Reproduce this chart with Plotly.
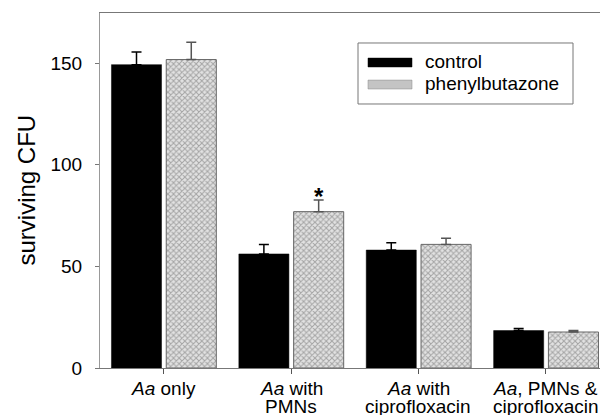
import plotly.graph_objects as go

label_line1 = ["<i>Aa</i> only", "<i>Aa</i> with", "<i>Aa</i> with", "<i>Aa</i>, PMNs &"]
label_line2 = ["", "PMNs", "ciprofloxacin", "ciprofloxacin"]
control = [149.2, 56.1, 58.0, 18.4]
control_err = [6.2, 4.7, 3.6, 1.0]
phenyl = [151.7, 76.9, 60.8, 17.7]
phenyl_err = [8.5, 5.7, 3.0, 0.7]
series_names = ["control", "phenylbutazone"]
y_ticks = [0, 50, 100, 150]
y_title = "surviving CFU"

xpos = list(range(len(label_line1)))
FONT = "Liberation Sans, Arial, sans-serif"

fig = go.Figure()
fig.add_trace(go.Bar(
    x=xpos, y=control, name=series_names[0], width=0.393, offset=-0.41,
    marker=dict(color="black", line=dict(color="black", width=0.5)),
    error_y=dict(type="data", array=control_err, arrayminus=[0]*4, symmetric=False,
                 color="black", thickness=1.5, width=5),
    showlegend=False,
))
fig.add_trace(go.Bar(
    x=xpos, y=phenyl, name=series_names[1], width=0.393, offset=0.02,
    marker=dict(color="#dcdcdc", line=dict(color="#666", width=1),
                pattern=dict(shape="x", size=4, solidity=0.45, fgcolor="#666", bgcolor="#e2e2e2")),
    error_y=dict(type="data", array=phenyl_err, arrayminus=[0]*4, symmetric=False,
                 color="#555", thickness=1.5, width=5),
    showlegend=False,
))

# significance star
fig.add_annotation(x=xpos[1] + 0.2165, y=phenyl[1] + phenyl_err[1], text="<b>*</b>",
                   showarrow=False, yanchor="bottom", yshift=-12,
                   font=dict(family=FONT, size=24, color="black"))

# category labels (two tight lines)
for xp, l1, l2 in zip(xpos, label_line1, label_line2):
    fig.add_annotation(x=xp, xref="x", y=0, yref="paper", text=l1, showarrow=False,
                       xanchor="center", yanchor="middle", yshift=-20.4,
                       font=dict(family=FONT, size=19, color="black"))
    if l2:
        fig.add_annotation(x=xp, xref="x", y=0, yref="paper", text=l2, showarrow=False,
                           xanchor="center", yanchor="middle", yshift=-38.6,
                           font=dict(family=FONT, size=19, color="black"))

# y-axis title
fig.add_annotation(xref="paper", yref="paper", x=-0.148, y=0.5, text=y_title, textangle=-90,
                   showarrow=False, xanchor="center", yanchor="middle",
                   font=dict(family=FONT, size=24, color="black"))

# legend drawn manually
shapes = [
    dict(type="rect", xref="paper", yref="paper", x0=0.516, x1=0.946, y0=0.7437, y1=0.9155,
         line=dict(color="#777", width=1), fillcolor="white"),
    dict(type="rect", xref="paper", yref="paper", x0=0.536, x1=0.624, y0=0.848, y1=0.873,
         line=dict(color="black", width=0.5), fillcolor="black"),
    dict(type="rect", xref="paper", yref="paper", x0=0.536, x1=0.624, y0=0.786, y1=0.811,
         line=dict(color="#888", width=0.5), fillcolor="#c4c4c4"),
]
fig.add_annotation(xref="paper", yref="paper", x=0.646, y=0.862, text=series_names[0],
                   showarrow=False, xanchor="left", yanchor="middle",
                   font=dict(family=FONT, size=19, color="black"))
fig.add_annotation(xref="paper", yref="paper", x=0.646, y=0.800, text=series_names[1],
                   showarrow=False, xanchor="left", yanchor="middle",
                   font=dict(family=FONT, size=19, color="black"))

fig.update_layout(
    width=600, height=415,
    margin=dict(l=100, r=0, t=13, b=47),
    plot_bgcolor="white", paper_bgcolor="white",
    barmode="overlay",
    shapes=shapes,
    font=dict(family=FONT, size=19, color="black"),
    xaxis=dict(range=[-0.5, 3.425], tickmode="array", tickvals=xpos, showticklabels=False,
               showline=True, linecolor="#777", linewidth=1, mirror=True, automargin=False,
               ticks="outside", ticklen=5, tickcolor="#555", showgrid=False, zeroline=False),
    yaxis=dict(range=[0, 174.6], tickvals=y_ticks, showline=True, linecolor="#999", linewidth=1,
               ticks="outside", ticklen=4, tickcolor="#777", showgrid=False, zeroline=False,
               automargin=False, ticklabelstandoff=9,
               tickfont=dict(family=FONT, size=19)),
)

fig.write_html("out.html", config={"displayModeBar": False},
               post_script="document.body.style.margin='0';document.body.style.overflow='hidden';")
